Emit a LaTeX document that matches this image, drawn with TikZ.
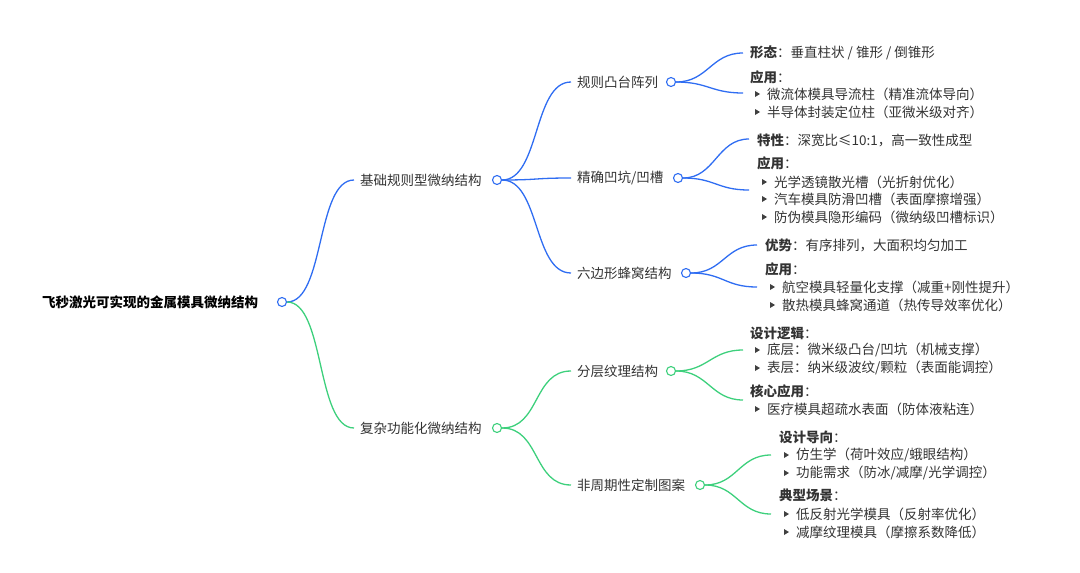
\documentclass[tikz,border=0pt]{standalone}
\usepackage{fontspec}
\setmainfont{Noto Sans CJK SC}
\begin{document}
\begin{tikzpicture}[x=1pt,y=-1pt,
  txt/.style={anchor=west,inner sep=0pt,text=black!80,font=\fontsize{13.5}{15}\selectfont},
  rt/.style={txt,font=\fontsize{13.5}{15}\selectfont\bfseries,text=black},
  dot/.style={circle,draw,fill=white,line width=1.1pt,minimum size=9pt,inner sep=0pt},
  bl/.style={draw=blue1,line width=1.3pt},
  gr/.style={draw=green1,line width=1.3pt}]
\definecolor{blue1}{HTML}{2F6DF2}
\definecolor{green1}{HTML}{3DD07C}
\newcommand{\bul}[2]{\fill[black!75] (#1-2,#2-3) -- (#1+3,#2) -- (#1-2,#2+3) -- cycle;}
\useasboundingbox (0,0) rectangle (1080,573);
% root
\node[rt] (root) at (42,302) {飞秒激光可实现的金属模具微纳结构};
\node[dot,draw=blue1] (rc) at (282,302) {};
% level 1
\node[txt] (a) at (360,180) {基础规则型微纳结构};
\node[dot,draw=blue1] (ac) at (497,180) {};
\node[txt] (b) at (360,428) {复杂功能化微纳结构};
\node[dot,draw=green1] (bc) at (497,428) {};
\draw[bl] (rc.east) .. controls +(38,0) and +(-38,0) .. ([xshift=-6pt]a.west);
\draw[gr] (rc.east) .. controls +(38,0) and +(-38,0) .. ([xshift=-6pt]b.west);
% level 2 blue
\node[txt] (a1) at (577,82) {规则凸台阵列};
\node[dot,draw=blue1] (a1c) at (671,82) {};
\node[txt] (a2) at (577,178) {精确凹坑/凹槽};
\node[dot,draw=blue1] (a2c) at (678,178) {};
\node[txt] (a3) at (577,273) {六边形蜂窝结构};
\node[dot,draw=blue1] (a3c) at (686,273) {};
\foreach \n in {a1,a2,a3}{\draw[bl] (ac.east) .. controls +(38,0) and +(-38,0) .. ([xshift=-6pt]\n.west);}
% level 2 green
\node[txt] (b1) at (577,371) {分层纹理结构};
\node[dot,draw=green1] (b1c) at (671,371) {};
\node[txt] (b2) at (577,485) {非周期性定制图案};
\node[dot,draw=green1] (b2c) at (700,485) {};
\foreach \n in {b1,b2}{\draw[gr] (bc.east) .. controls +(38,0) and +(-38,0) .. ([xshift=-6pt]\n.west);}
% leaves a1
\node[txt] (a1t) at (750,53) {\textbf{形态}：垂直柱状 / 锥形 / 倒锥形};
\node[txt] (a1u) at (750,77) {\textbf{应用}：};
\node[txt] (a1x) at (767,94) {微流体模具导流柱（精准流体导向）};
\node[txt] (a1y) at (767,112) {半导体封装定位柱（亚微米级对齐）};
\bul{757}{94}\bul{757}{112}
\coordinate (e11) at (743,53); \coordinate (e12) at (743,93);
\draw[bl] (a1c.east) .. controls +(32,0) and +(-32,0) .. (e11);
\draw[bl] (a1c.east) .. controls +(32,0) and +(-32,0) .. (e12);
% leaves a2
\node[txt] (a2t) at (757,140) {\textbf{特性}：深宽比≤10:1，高一致性成型};
\node[txt] (a2u) at (757,163) {\textbf{应用}：};
\node[txt] (a2x) at (774,182) {光学透镜散光槽（光折射优化）};
\node[txt] (a2y) at (774,199) {汽车模具防滑凹槽（表面摩擦增强）};
\node[txt] (a2z) at (774,217) {防伪模具隐形编码（微纳级凹槽标识）};
\bul{764}{182}\bul{764}{199}\bul{764}{217}
\coordinate (e21) at (749,139); \coordinate (e22) at (749,190);
\draw[bl] (a2c.east) .. controls +(32,0) and +(-32,0) .. (e21);
\draw[bl] (a2c.east) .. controls +(32,0) and +(-32,0) .. (e22);
% leaves a3
\node[txt] (a3t) at (765,245) {\textbf{优势}：有序排列，大面积均匀加工};
\node[txt] (a3u) at (765,269) {\textbf{应用}：};
\node[txt] (a3x) at (782,287) {航空模具轻量化支撑（减重+刚性提升）};
\node[txt] (a3y) at (782,305) {散热模具蜂窝通道（热传导效率优化）};
\bul{772}{287}\bul{772}{305}
\coordinate (e31) at (757,245); \coordinate (e32) at (757,287);
\draw[bl] (a3c.east) .. controls +(32,0) and +(-32,0) .. (e31);
\draw[bl] (a3c.east) .. controls +(32,0) and +(-32,0) .. (e32);
% leaves b1
\node[txt] (b1t) at (750,333) {\textbf{设计逻辑}：};
\node[txt] (b1x) at (767,350) {底层：微米级凸台/凹坑（机械支撑）};
\node[txt] (b1y) at (767,368) {表层：纳米级波纹/颗粒（表面能调控）};
\node[txt] (b1u) at (750,391) {\textbf{核心应用}：};
\node[txt] (b1z) at (767,409) {医疗模具超疏水表面（防体液粘连）};
\bul{757}{350}\bul{757}{368}\bul{757}{409}
\coordinate (f11) at (743,350); \coordinate (f12) at (743,400);
\draw[gr] (b1c.east) .. controls +(32,0) and +(-32,0) .. (f11);
\draw[gr] (b1c.east) .. controls +(32,0) and +(-32,0) .. (f12);
% leaves b2
\node[txt] (b2t) at (779,437) {\textbf{设计导向}：};
\node[txt] (b2x) at (796,455) {仿生学（荷叶效应/蛾眼结构）};
\node[txt] (b2y) at (796,473) {功能需求（防冰/减摩/光学调控）};
\node[txt] (b2u) at (779,495) {\textbf{典型场景}：};
\node[txt] (b2z) at (796,514) {低反射光学模具（反射率优化）};
\node[txt] (b2w) at (796,532) {减摩纹理模具（摩擦系数降低）};
\bul{786}{455}\bul{786}{473}\bul{786}{514}\bul{786}{532}
\coordinate (f21) at (771,455); \coordinate (f22) at (771,514);
\draw[gr] (b2c.east) .. controls +(32,0) and +(-32,0) .. (f21);
\draw[gr] (b2c.east) .. controls +(32,0) and +(-32,0) .. (f22);
\end{tikzpicture}
\end{document}
